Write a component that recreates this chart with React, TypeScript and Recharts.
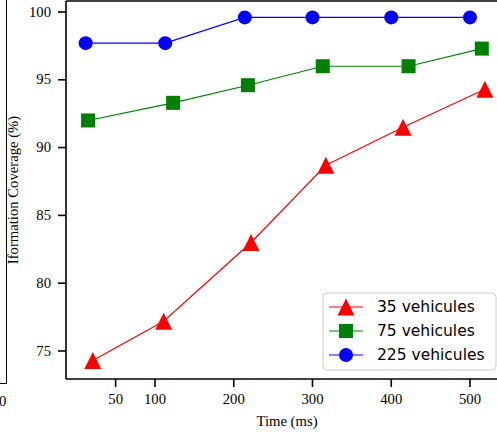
import { LineChart, Line, XAxis, YAxis, ReferenceLine } from 'recharts';

// x positions differ a bit between series
const x35 = [21, 111, 222, 317, 415, 519];
const y35 = [74.3, 77.2, 83.0, 88.7, 91.5, 94.3];
const x75 = [15, 123, 218, 313, 422, 515];
const y75 = [92.0, 93.3, 94.6, 96.0, 96.0, 97.3];
const x225 = [12, 113, 214, 300, 400, 500];
const y225 = [97.7, 97.7, 99.6, 99.6, 99.6, 99.6];

const xTicks = [50, 100, 200, 300, 400, 500];
const yTicks = [75, 80, 85, 90, 95, 100];
const seriesNames = ['35 vehicules', '75 vehicules', '225 vehicules'];
const seriesColors = ['#ff0000', '#008000', '#0000ff'];

const Y_MIN = 72.935;
const Y_MAX = 100.81;

const toPoints = (xs: number[], ys: number[]) => xs.map((x, i) => ({ x, y: ys[i] }));

const serif = '"Liberation Serif", "Times New Roman", serif';
const tickStyle = { fill: '#000', fontSize: 14.7, fontFamily: serif };

function Marker({ kind, cx, cy, color }: { kind: number; cx: number; cy: number; color: string }) {
  if (kind === 0) {
    const s = 8.5;
    return <path d={`M${cx},${cy - s}L${cx + s},${cy + s}L${cx - s},${cy + s}Z`} fill={color} />;
  }
  if (kind === 1) {
    return <rect x={cx - 7} y={cy - 7} width={14} height={14} fill={color} />;
  }
  return <circle cx={cx} cy={cy} r={7} fill={color} />;
}

const makeDot = (kind: number) => (props: any) => {
  const { cx, cy, index } = props;
  if (cx == null || cy == null) return <g key={index} />;
  return <Marker key={index} kind={kind} cx={cx} cy={cy} color={seriesColors[kind]} />;
};

const SerifTick = (props: any) => {
  const { x, y, payload, textAnchor, orientation } = props;
  return (
    <text
      x={x}
      y={y}
      textAnchor={textAnchor}
      dy={orientation === 'bottom' ? '0.71em' : '0.32em'}
      style={tickStyle}
    >
      {payload.value}
    </text>
  );
};

function LegendBox() {
  return (
    <svg width={175} height={79} style={{ position: 'absolute', left: 322, top: 292, zIndex: 2 }}>
      <rect x={1} y={1} width={173} height={77} rx={4} fill="#fff" fillOpacity={0.8} stroke="#cccccc" />
      {seriesNames.map((name, i) => {
        const cy = 15 + i * 24;
        return (
          <g key={name}>
            <line x1={7} x2={41} y1={cy} y2={cy} stroke={seriesColors[i]} strokeWidth={1.2} />
            <Marker kind={i} cx={24} cy={cy} color={seriesColors[i]} />
            <text
              x={55}
              y={cy}
              dominantBaseline="central"
              fontFamily="DejaVu Sans, sans-serif"
              fontSize={15.5}
              fill="#000"
            >
              {name}
            </text>
          </g>
        );
      })}
    </svg>
  );
}

export default function App() {
  return (
    <div
      style={{
        position: 'absolute',
        left: 0,
        top: 0,
        width: 497,
        height: 439,
        overflow: 'hidden',
        background: '#fff',
        fontFamily: serif,
      }}
    >
      <LineChart width={510} height={439} margin={{ top: 1, right: 0, left: 0, bottom: 0 }}>
        <XAxis
          dataKey="x"
          type="number"
          domain={[-13.02, 550.8]}
          ticks={xTicks}
          allowDataOverflow
          height={60}
          tick={<SerifTick />}
          tickSize={8}
          tickMargin={7}
          axisLine={{ stroke: '#000', strokeWidth: 1.6 }}
          tickLine={{ stroke: '#000', strokeWidth: 1.6 }}
          label={(props: any) => {
            const vb = props.viewBox || { x: 66, y: 379, width: 444 };
            return (
              <text x={vb.x + vb.width / 2 - 1} y={vb.y + 47} textAnchor="middle" style={tickStyle}>
                Time (ms)
              </text>
            );
          }}
        />
        <YAxis
          type="number"
          domain={[Y_MIN, Y_MAX]}
          ticks={yTicks}
          allowDataOverflow
          width={66}
          tick={<SerifTick />}
          tickSize={8}
          tickMargin={7}
          axisLine={{ stroke: '#000', strokeWidth: 1.6 }}
          tickLine={{ stroke: '#000', strokeWidth: 1.6 }}
          label={(props: any) => {
            const vb = props.viewBox || { x: 0, y: 1, height: 378 };
            const cy = vb.y + vb.height / 2;
            return (
              <text x={17.5} y={cy} transform={`rotate(-90 17.5 ${cy})`} textAnchor="middle" style={tickStyle}>
                Iformation Coverage (%)
              </text>
            );
          }}
        />
        <ReferenceLine y={Y_MAX} stroke="#000" strokeWidth={1.6} />
        <Line
          data={toPoints(x35, y35)}
          dataKey="y"
          stroke={seriesColors[0]}
          strokeWidth={1.2}
          dot={makeDot(0)}
          activeDot={false}
          isAnimationActive={false}
        />
        <Line
          data={toPoints(x75, y75)}
          dataKey="y"
          stroke={seriesColors[1]}
          strokeWidth={1.2}
          dot={makeDot(1)}
          activeDot={false}
          isAnimationActive={false}
        />
        <Line
          data={toPoints(x225, y225)}
          dataKey="y"
          stroke={seriesColors[2]}
          strokeWidth={1.2}
          dot={makeDot(2)}
          activeDot={false}
          isAnimationActive={false}
        />
      </LineChart>
      <LegendBox />
      {/* bit of the neighbouring panel cut off on the left */}
      <div
        style={{
          position: 'absolute',
          left: 0,
          top: 0,
          width: 6,
          height: 383,
          borderRight: '1.6px solid #000',
          borderBottom: '1.6px solid #000',
          zIndex: 2,
        }}
      />
      <div style={{ position: 'absolute', left: -1, top: 393, fontSize: 14.7, lineHeight: '17px', zIndex: 2 }}>0</div>
    </div>
  );
}
